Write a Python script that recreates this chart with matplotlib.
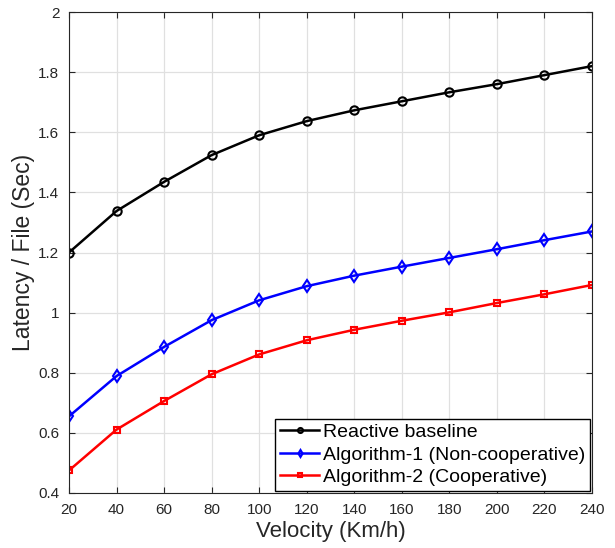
import matplotlib.pyplot as plt

plt.rcParams['font.family'] = ['Liberation Sans', 'DejaVu Sans']

# Données
velocity = [20, 40, 60, 80, 100, 120, 140, 160, 180, 200, 220, 240]

reactive = [1.20, 1.338, 1.435, 1.524, 1.590, 1.637, 1.673, 1.703, 1.733, 1.760, 1.790, 1.820]
algo1 = [0.655, 0.789, 0.886, 0.975, 1.041, 1.088, 1.123, 1.153, 1.182, 1.211, 1.241, 1.270]
algo2 = [0.475, 0.611, 0.706, 0.795, 0.861, 0.908, 0.943, 0.973, 1.001, 1.032, 1.061, 1.092]

labels = ['Reactive baseline', 'Algorithm-1 (Non-cooperative)', 'Algorithm-2 (Cooperative)']

fig = plt.figure(figsize=(6.15, 5.48), dpi=100)
ax = fig.add_axes([69 / 615, 1 - 493 / 548, (592 - 69) / 615, (493 - 12) / 548])

ax.plot(velocity, reactive, color='black', marker='o', ms=6, mfc='none', mew=1.5, lw=1.8, label=labels[0])
ax.plot(velocity, algo1, color='blue', marker='d', ms=6, mfc='none', mew=1.5, lw=1.8, label=labels[1])
ax.plot(velocity, algo2, color='red', marker='s', ms=5, mfc='none', mew=1.5, lw=1.8, label=labels[2])

ax.set_xlim(20, 240)
ax.set_ylim(0.4, 2)
ax.set_xticks(range(20, 241, 20))
ax.set_yticks([0.4, 0.6, 0.8, 1.0, 1.2, 1.4, 1.6, 1.8, 2.0])
ax.set_yticklabels(['0.4', '0.6', '0.8', '1', '1.2', '1.4', '1.6', '1.8', '2'])
ax.tick_params(direction='in', labelsize=11, colors='#262626', length=4, top=True, right=True)
ax.tick_params(axis='x', pad=7)
ax.tick_params(axis='y', pad=7)
ax.grid(True, color='#e0e0e0', lw=0.9)
for s in ax.spines.values():
    s.set_color('#262626')
    s.set_linewidth(0.8)

ax.set_xlabel('Velocity (Km/h)', fontsize=16, color='#262626', labelpad=3)
ax.set_ylabel('Latency / File (Sec)', fontsize=16.5, color='#262626', labelpad=2)

leg = ax.legend(loc='lower right', fontsize=14, fancybox=False, framealpha=1,
                edgecolor='black', borderaxespad=0.1, handlelength=2.0,
                handletextpad=0.2, borderpad=0.25, labelspacing=0.25, markerscale=0.6)
leg.get_frame().set_linewidth(1.0)

fig.savefig('out.png', dpi=100)
